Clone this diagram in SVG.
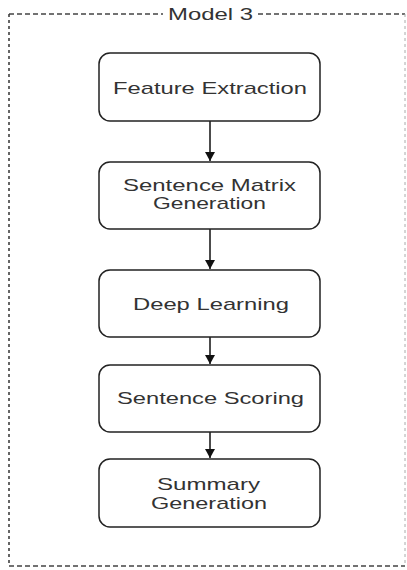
<svg xmlns="http://www.w3.org/2000/svg" width="407" height="570" viewBox="0 0 407 570">
<style>
.frameh{stroke:#444;stroke-width:1.3;stroke-dasharray:5 3;fill:none}
.framev{stroke:#333;stroke-width:1.5;stroke-dasharray:3 3;fill:none}
.framer{stroke:#aaa;stroke-width:1;stroke-dasharray:3 3;fill:none}
.box{fill:#fff;stroke:#222;stroke-width:1.5}
.t{font-family:"Liberation Sans",Arial,sans-serif;font-size:17px;fill:#333;text-anchor:middle}
.edge{stroke:#111;stroke-width:1.5;fill:none}
</style>
<defs>
<marker id="ah" markerUnits="userSpaceOnUse" markerWidth="12" markerHeight="12" refX="9" refY="5.5" orient="auto">
<path d="M0,0.5 L9,5.5 L0,10.5 Z" fill="#111"/>
</marker>
</defs>
<rect width="407" height="570" fill="#fff"/>
<g id="frame">
<path class="frameh" d="M9,14 H163 M258,14 H405 M9,566 H405"/>
<path class="framev" d="M9,14 V566"/>
<path class="framer" d="M405,14 V566"/>
<text class="t" x="210.5" y="20" textLength="85" lengthAdjust="spacingAndGlyphs">Model 3</text>
</g>
<g id="connectors">
<path class="edge" d="M210,121 V161" marker-end="url(#ah)"/>
<path class="edge" d="M210,229 V269" marker-end="url(#ah)"/>
<path class="edge" d="M210,337 V364" marker-end="url(#ah)"/>
<path class="edge" d="M210,432 V458" marker-end="url(#ah)"/>
</g>
<g id="n1">
<rect class="box" x="99" y="53" width="221" height="68" rx="11"/>
<text class="t" x="210" y="94" textLength="194" lengthAdjust="spacingAndGlyphs">Feature Extraction</text>
</g>
<g id="n2">
<rect class="box" x="99" y="162" width="221" height="67" rx="11"/>
<text class="t" x="209.5" y="191" textLength="173" lengthAdjust="spacingAndGlyphs">Sentence Matrix</text>
<text class="t" x="209.5" y="209" textLength="113" lengthAdjust="spacingAndGlyphs">Generation</text>
</g>
<g id="n3">
<rect class="box" x="99" y="270" width="221" height="67" rx="11"/>
<text class="t" x="211" y="310" textLength="156" lengthAdjust="spacingAndGlyphs">Deep Learning</text>
</g>
<g id="n4">
<rect class="box" x="99" y="365" width="221" height="67" rx="11"/>
<text class="t" x="210.5" y="404" textLength="187" lengthAdjust="spacingAndGlyphs">Sentence Scoring</text>
</g>
<g id="n5">
<rect class="box" x="99" y="459" width="221" height="68" rx="11"/>
<text class="t" x="208.5" y="490" textLength="103" lengthAdjust="spacingAndGlyphs">Summary</text>
<text class="t" x="209" y="508.5" textLength="116" lengthAdjust="spacingAndGlyphs">Generation</text>
</g>
</svg>
